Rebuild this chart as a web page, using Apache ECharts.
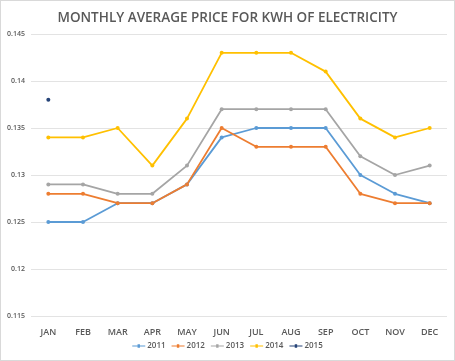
<!DOCTYPE html>
<html><head><meta charset="utf-8">
<script src="https://cdn.jsdelivr.net/npm/echarts@6/dist/echarts.min.js"></script>
<style>html,body{margin:0;padding:0;background:#fff}#c{width:455px;height:361px;box-sizing:border-box;border:1px solid #d9d9d9}</style>
</head><body><div id="c"></div>
<script>
const months = ['JAN','FEB','MAR','APR','MAY','JUN','JUL','AUG','SEP','OCT','NOV','DEC'];
const s2011 = [0.125,0.125,0.127,0.127,0.129,0.134,0.135,0.135,0.135,0.130,0.128,0.127];
const s2012 = [0.128,0.128,0.127,0.127,0.129,0.135,0.133,0.133,0.133,0.128,0.127,0.127];
const s2013 = [0.129,0.129,0.128,0.128,0.131,0.137,0.137,0.137,0.137,0.132,0.130,0.131];
const s2014 = [0.134,0.134,0.135,0.131,0.136,0.143,0.143,0.143,0.141,0.136,0.134,0.135];
const s2015 = [0.138,null,null,null,null,null,null,null,null,null,null,null];
const seriesNames = ['2011','2012','2013','2014','2015'];
const seriesData = [s2011,s2012,s2013,s2014,s2015];
const colors = ['#5B9BD5','#ED7D31','#A5A5A5','#FFC000','#264478'];
const font = '"Open Sans", "Liberation Sans", sans-serif';
const chart = echarts.init(document.getElementById('c'));
chart.setOption({
  animation:false,
  color:colors,
  title:{text:'MONTHLY AVERAGE PRICE FOR KWH OF ELECTRICITY',left:'center',top:5,
    textStyle:{color:'#595959',fontSize:13.5,fontWeight:600,fontFamily:font}},
  legend:{bottom:5,left:'center',itemWidth:13,itemHeight:4,itemGap:6,
    icon:'path://M0,1.5H13V2.5H0Z M5.3,0.2H7.7V3.8H5.3Z',
    textStyle:{color:'#595959',fontSize:8,fontWeight:600,fontFamily:font,padding:[0,0,0,-3]},
    data:seriesNames},
  grid:{left:30,right:7,top:33,bottom:44},
  xAxis:{type:'category',data:months,boundaryGap:true,
    axisLine:{show:false},axisTick:{show:false},
    axisLabel:{color:'#595959',fontSize:9,fontWeight:600,fontFamily:font,margin:12}},
  yAxis:{type:'value',min:0.115,max:0.145,interval:0.005,
    axisLine:{show:false},axisTick:{show:false},
    splitLine:{lineStyle:{color:'#e3e3e3'}},
    axisLabel:{color:'#595959',fontSize:7,fontWeight:600,fontFamily:font,margin:6,
      formatter:v=>String(parseFloat(v.toFixed(3)))}},
  series:seriesNames.map((n,i)=>({name:n,type:'line',data:seriesData[i],
    symbol:'circle',symbolSize:4,connectNulls:false,
    lineStyle:{width:1.8},itemStyle:{color:colors[i]}}))
});
</script></body></html>
